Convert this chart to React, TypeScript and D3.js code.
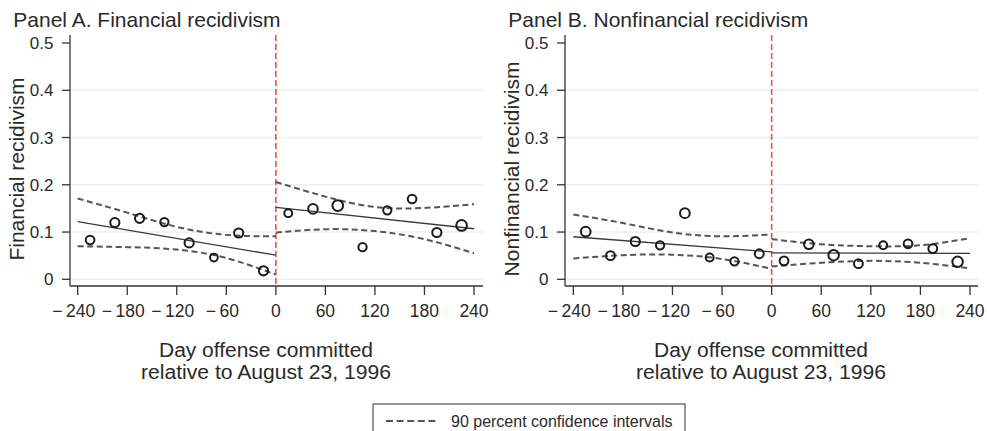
import React from "react";
import * as d3 from "d3";

// ---------- data ----------
const days = [-225, -195, -165, -135, -105, -75, -45, -15, 15, 45, 75, 105, 135, 165, 195, 225];
const finRate = [0.083, 0.120, 0.129, 0.121, 0.077, 0.046, 0.098, 0.018, 0.140, 0.149, 0.156, 0.068, 0.146, 0.170, 0.099, 0.114];
const finWeight = [230, 260, 260, 211, 260, 184, 260, 260, 192, 281, 350, 211, 211, 230, 260, 350];
const nonRate = [0.101, 0.050, 0.080, 0.072, 0.140, 0.046, 0.038, 0.054, 0.039, 0.074, 0.051, 0.033, 0.072, 0.075, 0.065, 0.037];
const nonWeight = [292, 240, 260, 211, 292, 192, 211, 240, 240, 281, 338, 240, 192, 230, 240, 338];

const preDays = [-240, -180, -120, -60, 0];
const postDays = [0, 60, 120, 180, 240];
const preEnds = [-240, 0];
const postEnds = [0, 240];

const finPreFit = [0.122, 0.051];
const finPostFit = [0.152, 0.107];
const finPreUpper = [0.171, 0.141, 0.111, 0.094, 0.091];
const finPreLower = [0.070, 0.068, 0.063, 0.045, 0.010];
const finPostUpper = [0.206, 0.175, 0.153, 0.151, 0.159];
const finPostLower = [0.099, 0.106, 0.102, 0.085, 0.055];

const nonPreFit = [0.090, 0.058];
const nonPostFit = [0.056, 0.055];
const nonPreUpper = [0.137, 0.119, 0.099, 0.091, 0.095];
const nonPreLower = [0.044, 0.051, 0.052, 0.043, 0.022];
const nonPostUpper = [0.085, 0.074, 0.070, 0.072, 0.087];
const nonPostLower = [0.027, 0.035, 0.039, 0.035, 0.023];

const xTicks = [-240, -180, -120, -60, 0, 60, 120, 180, 240];
const yTicks = [0, 0.1, 0.2, 0.3, 0.4, 0.5];
const gridTicks = [0, 0.1, 0.2, 0.3, 0.4];

const titles = ["Panel A. Financial recidivism", "Panel B. Nonfinancial recidivism"];
const yTitles = ["Financial recidivism", "Nonfinancial recidivism"];
const xTitle1 = "Day offense committed";
const xTitle2 = "relative to August 23, 1996";
const legendLabel = "90 percent confidence intervals";

const FONT = "'Liberation Sans', Arial, Helvetica, sans-serif";
const INK = "#2a2a2a";

type PanelProps = {
  axisX: number;
  plotRight: number;
  x0: number;
  x1: number;
  title: string;
  yTitle: string;
  yTitleX: number;
  rates: number[];
  weights: number[];
  preFit: number[];
  postFit: number[];
  preUpper: number[];
  preLower: number[];
  postUpper: number[];
  postLower: number[];
};

function Panel(p: PanelProps) {
  const top = 35;
  const axisY = 286;
  const x = d3.scaleLinear().domain([-240, 240]).range([p.x0, p.x1]);
  const y = d3.scaleLinear().domain([0, 0.5]).range([279.3, 43]);
  const r = d3.scaleSqrt().domain([0, 400]).range([0, 5.7]);
  const ciLine = d3
    .line<[number, number]>()
    .x((d) => x(d[0]))
    .y((d) => y(d[1]))
    .curve(d3.curveNatural);
  const fitLine = d3
    .line<[number, number]>()
    .x((d) => x(d[0]))
    .y((d) => y(d[1]));
  const zip = (xs: number[], ys: number[]) => xs.map((v, i) => [v, ys[i]] as [number, number]);
  const titleMid = p.axisX + 196;

  return (
    <g>
      <text x={p.axisX - 56.7} y={27} fontSize={21} fill={INK} fontFamily={FONT}>
        {p.title}
      </text>
      {/* gridlines */}
      {gridTicks.map((t) => (
        <line key={"g" + t} x1={p.axisX + 2} x2={p.plotRight} y1={y(t)} y2={y(t)} stroke="#e8f1f1" strokeWidth={1.5} />
      ))}
      {/* cutoff */}
      <line x1={x(0)} x2={x(0)} y1={top} y2={axisY} stroke="#f2543a" strokeWidth={1.6} strokeDasharray="6,3" />
      {/* CI */}
      {[
        zip(preDays, p.preUpper),
        zip(preDays, p.preLower),
        zip(postDays, p.postUpper),
        zip(postDays, p.postLower),
      ].map((pts, i) => (
        <path key={"ci" + i} d={ciLine(pts) || ""} fill="none" stroke="#555" strokeWidth={2} strokeDasharray="6,3.5" />
      ))}
      {/* fits */}
      <path d={fitLine(zip(preEnds, p.preFit)) || ""} fill="none" stroke="#3a3a3a" strokeWidth={1.3} />
      <path d={fitLine(zip(postEnds, p.postFit)) || ""} fill="none" stroke="#3a3a3a" strokeWidth={1.3} />
      {/* points */}
      {days.map((d, i) => (
        <circle key={"c" + i} cx={x(d)} cy={y(p.rates[i])} r={r(p.weights[i])} fill="none" stroke="#1a1a1a" strokeWidth={2} />
      ))}
      {/* axes */}
      <line x1={p.axisX} x2={p.axisX} y1={top} y2={axisY} stroke="#333" strokeWidth={1.3} />
      <line x1={p.axisX} x2={p.plotRight} y1={axisY} y2={axisY} stroke="#333" strokeWidth={1.3} />
      {yTicks.map((t) => (
        <g key={"yt" + t}>
          <line x1={p.axisX - 8} x2={p.axisX} y1={y(t)} y2={y(t)} stroke="#333" strokeWidth={1.3} />
          <text x={p.axisX - 16.5} y={y(t)} dy="0.36em" textAnchor="end" fontSize={17} fill={INK} fontFamily={FONT}>
            {t === 0 ? "0" : d3.format(".1f")(t)}
          </text>
        </g>
      ))}
      {xTicks.map((t) => (
        <g key={"xt" + t}>
          <line x1={x(t)} x2={x(t)} y1={axisY} y2={axisY + 9} stroke="#333" strokeWidth={1.3} />
          <text x={x(t) + (t < 0 ? -4 : 0)} y={317} textAnchor="middle" fontSize={17.5} fill={INK} fontFamily={FONT}>
            {t < 0 ? "\u2212\u2009" + Math.abs(t) : String(t)}
          </text>
        </g>
      ))}
      <text
        transform={`translate(${p.yTitleX},${169}) rotate(-90)`}
        textAnchor="middle"
        fontSize={21}
        fill={INK}
        fontFamily={FONT}
      >
        {p.yTitle}
      </text>
      <text
        x={titleMid}
        y={357}
        textAnchor="middle"
        fontSize={19.5}
        textLength={214}
        lengthAdjust="spacingAndGlyphs"
        fill={INK}
        fontFamily={FONT}
      >
        {xTitle1}
      </text>
      <text
        x={titleMid}
        y={379}
        textAnchor="middle"
        fontSize={19.5}
        textLength={250}
        lengthAdjust="spacingAndGlyphs"
        fill={INK}
        fontFamily={FONT}
      >
        {xTitle2}
      </text>
    </g>
  );
}

export default function App() {
  return (
    <svg width={987} height={431} style={{ position: "absolute", left: 0, top: 0, background: "#fff" }}>
      <rect x={0} y={0} width={987} height={431} fill="#fff" />
      <Panel
        axisX={70}
        plotRight={483}
        x0={77.7}
        x1={474}
        title={titles[0]}
        yTitle={yTitles[0]}
        yTitleX={24}
        rates={finRate}
        weights={finWeight}
        preFit={finPreFit}
        postFit={finPostFit}
        preUpper={finPreUpper}
        preLower={finPreLower}
        postUpper={finPostUpper}
        postLower={finPostLower}
      />
      <Panel
        axisX={565}
        plotRight={978}
        x0={573.3}
        x1={970}
        title={titles[1]}
        yTitle={yTitles[1]}
        yTitleX={519}
        rates={nonRate}
        weights={nonWeight}
        preFit={nonPreFit}
        postFit={nonPostFit}
        preUpper={nonPreUpper}
        preLower={nonPreLower}
        postUpper={nonPostUpper}
        postLower={nonPostLower}
      />
      {/* legend */}
      <rect x={373} y={404} width={312} height={40} fill="#fff" stroke="#333" strokeWidth={1} />
      <line x1={386} x2={439} y1={421} y2={421} stroke="#555" strokeWidth={1.8} strokeDasharray="7,3.6" />
      <text x={451} y={426.5} fontSize={16} fill={INK} fontFamily={FONT}>
        {legendLabel}
      </text>
    </svg>
  );
}
